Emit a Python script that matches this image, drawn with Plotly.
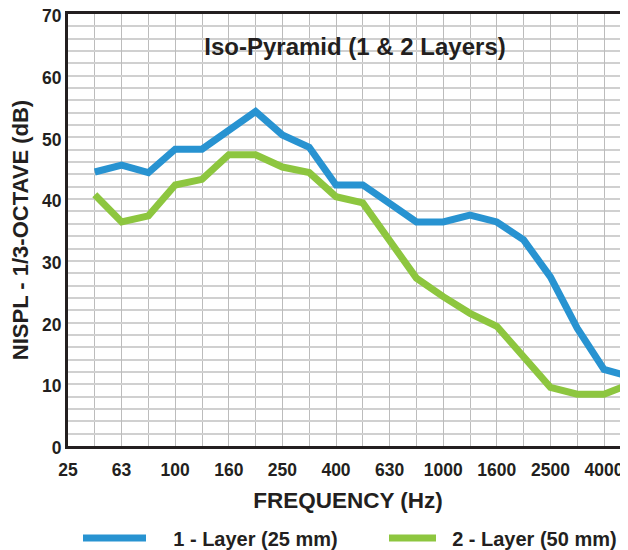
import plotly.graph_objects as go

# 1/3-octave band labels, one per vertical gridline (first one printed as "25")
band_labels = ["25", "50", "63", "80", "100", "125", "160", "200", "250", "315", "400",
               "500", "630", "800", "1000", "1250", "1600", "2000", "2500", "3150", "4000", "5000"]
layer1 = [None, 44.4, 45.5, 44.3, 48.1, 48.1, 51.1, 54.2, 50.4, 48.4, 42.3, 42.3,
          39.3, 36.3, 36.3, 37.4, 36.3, 33.4, 27.4, 19.1, 12.4, 11.2]
layer2 = [None, 40.7, 36.3, 37.3, 42.3, 43.2, 47.2, 47.2, 45.2, 44.3, 40.4, 39.4,
          33.4, 27.2, 24.2, 21.5, 19.4, 14.4, 9.5, 8.4, 8.4, 10.1]
series_names = ["1 - Layer (25 mm)", "2 - Layer (50 mm)"]
colors = ["#2893d1", "#8dc63f"]

x = list(range(len(band_labels)))
tickvals = x[::2]
ticktext = band_labels[::2]

FONT = "Liberation Sans"
TXT = "#231f20"
HGRID = "#d0d0d0"
VGRID = "#bcbcbc"
OFF = 8  # page body margin shifts the figure by 8 px

fig = go.Figure()
legend_ids = ["legend", "legend2"]
pads = ["&nbsp;&nbsp;&nbsp;&nbsp;", "&nbsp;&nbsp;"]
for name, vals, c, lg, pad in zip(series_names, [layer1, layer2], colors, legend_ids, pads):
    fig.add_trace(go.Scatter(x=x, y=vals, mode="lines", name="%s<b>%s</b>" % (pad, name),
                             line=dict(color=c, width=7), connectgaps=False, legend=lg))

leg_common = dict(orientation="h", xref="container", xanchor="left",
                  yref="container", y=1 - (538 - OFF) / 550, yanchor="middle",
                  font=dict(size=20, family=FONT, color=TXT),
                  bgcolor="rgba(0,0,0,0)", borderwidth=0)

fig.update_layout(
    width=628, height=550,
    margin=dict(l=68 - OFF, r=OFF, t=14 - OFF, b=550 - (446 - OFF)),
    paper_bgcolor="white", plot_bgcolor="white",
    font=dict(family=FONT, color=TXT),
    title=dict(text="<b>Iso-Pyramid (1 & 2 Layers)</b>", x=(355 - OFF) / 628, xref="container",
               xanchor="center", y=1 - (47 - OFF) / 550, yanchor="middle",
               font=dict(size=24, family=FONT, color=TXT)),
    showlegend=True,
    legend=dict(x=(84 - 6 - OFF) / 628, itemwidth=63, **leg_common),
    legend2=dict(x=(390 - 6 - OFF) / 628, itemwidth=47, **leg_common),
)

fig.update_xaxes(
    range=[0, 560 / 26.8], tickmode="array", tickvals=tickvals,
    ticktext=["<b>%s</b>" % t for t in ticktext],
    tickfont=dict(size=17.5, family=FONT, color=TXT),
    showgrid=True, gridcolor=VGRID, gridwidth=1.4,
    minor=dict(tickmode="linear", tick0=0, dtick=1, showgrid=True, gridcolor=VGRID, gridwidth=1.4),
    showline=True, linecolor=TXT, linewidth=3, mirror=True,
    ticks="", ticklabelstandoff=6, zeroline=False, automargin=False,
    ticklabeloverflow="allow",
    title=dict(text="<b>FREQUENCY (Hz)</b>", font=dict(size=22.5, family=FONT, color=TXT), standoff=14),
)
fig.update_yaxes(
    range=[0, 70], tickmode="linear", tick0=0, dtick=10,
    tickfont=dict(size=17.5, family=FONT, color=TXT),
    tickprefix="<b>", ticksuffix="</b>",
    showgrid=True, gridcolor=HGRID, gridwidth=2,
    minor=dict(tickmode="linear", tick0=0, dtick=2, showgrid=True, gridcolor=HGRID, gridwidth=2),
    showline=True, linecolor=TXT, linewidth=3, mirror=False,
    ticks="", zeroline=False, automargin=False, ticklabeloverflow="allow",
    ticklabelshift=2,
    title=dict(text="<b>NISPL - 1/3-OCTAVE (dB)</b>", font=dict(size=22, family=FONT, color=TXT), standoff=20),
)

fig.write_html("out.html")
